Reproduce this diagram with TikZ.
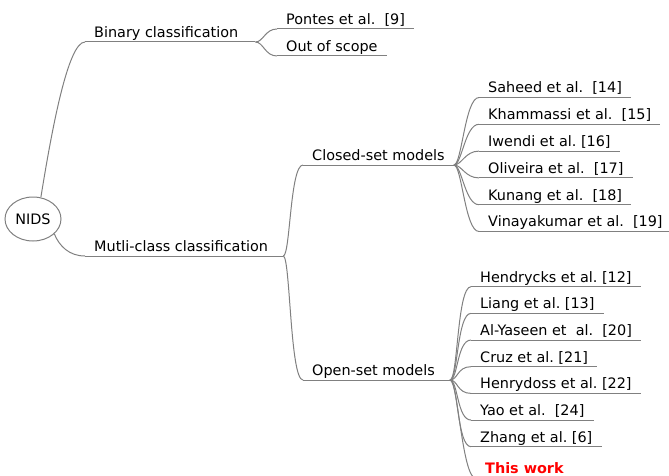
\documentclass[tikz,border=0pt]{standalone}
\usepackage[]{color}
\usepackage{fontspec}
\setmainfont{DejaVu Sans}
\usepackage{tikz}
\usetikzlibrary{shapes.geometric}

\newcommand{\mapfont}{\fontsize{14.4}{17}\selectfont\frenchspacing}

\tikzset{
  branch/.style={draw=gray, line width=1pt},
  topic/.style={anchor=south west, inner xsep=9pt, inner ysep=0pt,
    text height=11pt, text depth=4.5pt, font=\mapfont},
}

\begin{document}
\begin{tikzpicture}[x=1pt, y=-1pt]
\useasboundingbox (0,0) rectangle (669,476);
\clip (0,0) rectangle (669,476);
\node[ellipse, draw=gray, line width=1pt, minimum width=56pt, minimum height=44pt,
  inner sep=0pt, font=\mapfont] (nids) at (33,219) {NIDS};

% first level
\node[topic] (bin) at (85,42) {Binary classification};
\node[topic] (multi) at (85,256) {Mutli-class classification};
\draw[branch] (bin.south west) -- ([xshift=8pt]bin.south east) coordinate (bin-end);
\draw[branch] (multi.south west) -- ([xshift=6pt]multi.south east) coordinate (multi-end);
\draw[branch] (nids.70) .. controls +(11,-68) and +(-17,0) .. (bin.south west);
\draw[branch] (nids.-35) .. controls +(5,12) and +(-16,0) .. (multi.south west);

% binary
\node[topic] (pontes) at (277,29) {Pontes et al.\ \ [9]};
\node[topic] (scope) at (277,56) {Out of scope};
\foreach \n in {pontes,scope}{
  \draw[branch] (\n.south west) -- (\n.south east);
  \draw[branch] (bin-end) .. controls +(8,0) and +(-12,0) .. (\n.south west);
}

% multi-class
\node[topic] (closed) at (303,165) {Closed-set models};
\node[topic] (open) at (303,380) {Open-set models};
\draw[branch] (closed.south west) -- (closed.south east) coordinate (closed-end);
\draw[branch] (open.south west) -- ([xshift=6pt]open.south east) coordinate (open-end);
\foreach \n in {closed,open}
  \draw[branch] (multi-end) .. controls +(7,0) and +(-13,0) .. (\n.south west);

% closed-set leaves
\foreach \txt [count=\i] in {Saheed et al.\ \ [14], Khammassi et al.\ \ [15],
  Iwendi et al. [16], Oliveira et al.\ \ [17], Kunang et al.\ \ [18],
  Vinayakumar et al.\ \ [19]}{
  \node[topic] (closed\i) at (479,{97.5+26.8*(\i-1)}) {\txt};
  \draw[branch] (closed\i.south west) -- (closed\i.south east);
  \draw[branch] (closed-end) .. controls +(8,0) and +(-14,0) .. (closed\i.south west);
}

% open-set leaves
\foreach \txt [count=\i] in {Hendrycks et al. [12], Liang et al. [13],
  Al-Yaseen et\ \ al.\ \ [20], Cruz et al. [21], Henrydoss et al. [22],
  Yao et al.\ \ [24], Zhang et al. [6]}{
  \node[topic] (open\i) at (471,{286.7+26.67*(\i-1)}) {\txt};
  \draw[branch] (open\i.south west) -- (open\i.south east);
  \draw[branch] (open-end) .. controls +(8,0) and +(-14,0) .. (open\i.south west);
}
\node[topic, text=red, font=\mapfont\bfseries] (thiswork) at (476,478.5) {This work};
\draw[branch] (thiswork.south west) -- (thiswork.south east);
\draw[branch] (open-end) .. controls +(8,0) and +(-14,0) .. (thiswork.south west);
%\draw[very thin, color = gray](0,0) grid[step=50] (669,476);
\end{tikzpicture}
\end{document}
